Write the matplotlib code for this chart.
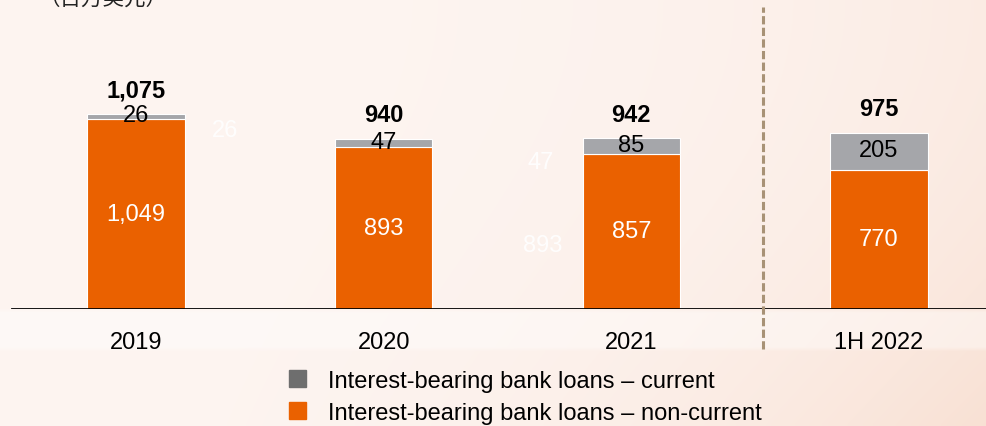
import numpy as np
import matplotlib.pyplot as plt
from matplotlib.patches import Patch

plt.rcParams['font.family'] = ['Liberation Sans', 'Noto Sans CJK SC', 'DejaVu Sans']

categories = ['2019', '2020', '2021', '1H 2022']
non_current = [1049, 893, 857, 770]
current = [26, 47, 85, 205]
totals = [1075, 940, 942, 975]
total_labels = ['1,075', '940', '942', '975']
non_current_labels = ['1,049', '893', '857', '770']

ORANGE = '#EA6100'
GRAY = '#A5A6AA'
GRAY_KEY = '#6E6E6E'
W, H = 987, 427

fig = plt.figure(figsize=(W / 100, H / 100), dpi=100)

# soft peach backdrop, a bit warmer towards the right and bottom
bg = fig.add_axes([0, 0, 1, 1], zorder=-10)
gx, gy = np.meshgrid(np.linspace(0, 1, 200), np.linspace(0, 1, 100))
warm = np.clip(0.3 * gx ** 3 + 0.35 * gy ** 2 * gx ** 2, 0, 1)
base = np.array([0.993, 0.960, 0.945])
peach = np.array([0.965, 0.840, 0.770])
img = base + (peach - base) * warm[..., None]
# lighter band behind the category labels
band = (gy > (312 / H)) & (gy < (352 / H))
img[band] = img[band] * 0.6 + 0.4
bg.imshow(img, extent=[0, 1, 0, 1], aspect='auto', origin='upper', interpolation='bilinear')
bg.axis('off')

px_per_unit = 0.181
ax = fig.add_axes([0, 117 / H, 1, 310 / H])
ax.set_facecolor('none')
x = np.arange(len(categories))
ax.set_xlim(-136 / 247.67, (W - 136) / 247.67)
ax.set_ylim(0, 310 / px_per_unit)

ax.bar(x, non_current, width=0.392, color=ORANGE, edgecolor='white', linewidth=0.8)
ax.bar(x, current, bottom=non_current, width=0.392, color=GRAY, edgecolor='white', linewidth=0.8)

for i in range(len(categories)):
    ax.text(x[i], non_current[i] / 2, non_current_labels[i], ha='center', va='center',
            fontsize=17, color='white')
    ax.annotate(str(current[i]), (x[i], non_current[i] + current[i] / 2),
                xytext=(0, 1), textcoords='offset points', ha='center', va='center',
                fontsize=17, color='black')
    ax.annotate(total_labels[i], (x[i], totals[i]), xytext=(0, 17.5),
                textcoords='offset points', ha='center', va='center',
                fontsize=17, fontweight='bold', color='black')

# faint leftover labels in the slide background
ghost = dict(ha='center', va='center', fontsize=17, color='white', alpha=0.9)
ax.text(0.36, 1075 - 16 / px_per_unit, '26', **ghost)
ax.text(1.635, 893 - 15 / px_per_unit, '47', **ghost)
ax.text(1.642, 893 / 2 - 17 / px_per_unit, '893', **ghost)

for s in ax.spines.values():
    s.set_visible(False)
ax.axhline(0, xmin=12 / W, xmax=1, color='black', linewidth=2)
ax.set_yticks([])
ax.set_xticks(x, categories, fontsize=17)
ax.tick_params(axis='x', length=0, pad=15.5)

# half-year divider
ax.axvline((763 - 136) / 247.67, ymin=-40 / 310, ymax=302 / 310, clip_on=False,
           color='#A89276', linewidth=2.2, linestyle=(0, (2.7, 1.1)))

fig.text(103 / W, 1.0 + 1 / H, '（百万美元）', ha='center', va='center',
         fontsize=15.5, color='#222222', family=['Noto Sans CJK SC', 'DejaVu Sans'])

handles = [Patch(color=GRAY_KEY), Patch(color=ORANGE)]
fig.legend(handles, ['Interest-bearing bank loans – current',
                     'Interest-bearing bank loans – non-current'],
           loc='upper left', bbox_to_anchor=(289 / W, 1 - 371 / H), frameon=False,
           fontsize=17, handlelength=0.7, handleheight=0.7, handletextpad=0.95,
           labelspacing=0.42, borderpad=0, borderaxespad=0)

fig.savefig('out.png', dpi=100)
